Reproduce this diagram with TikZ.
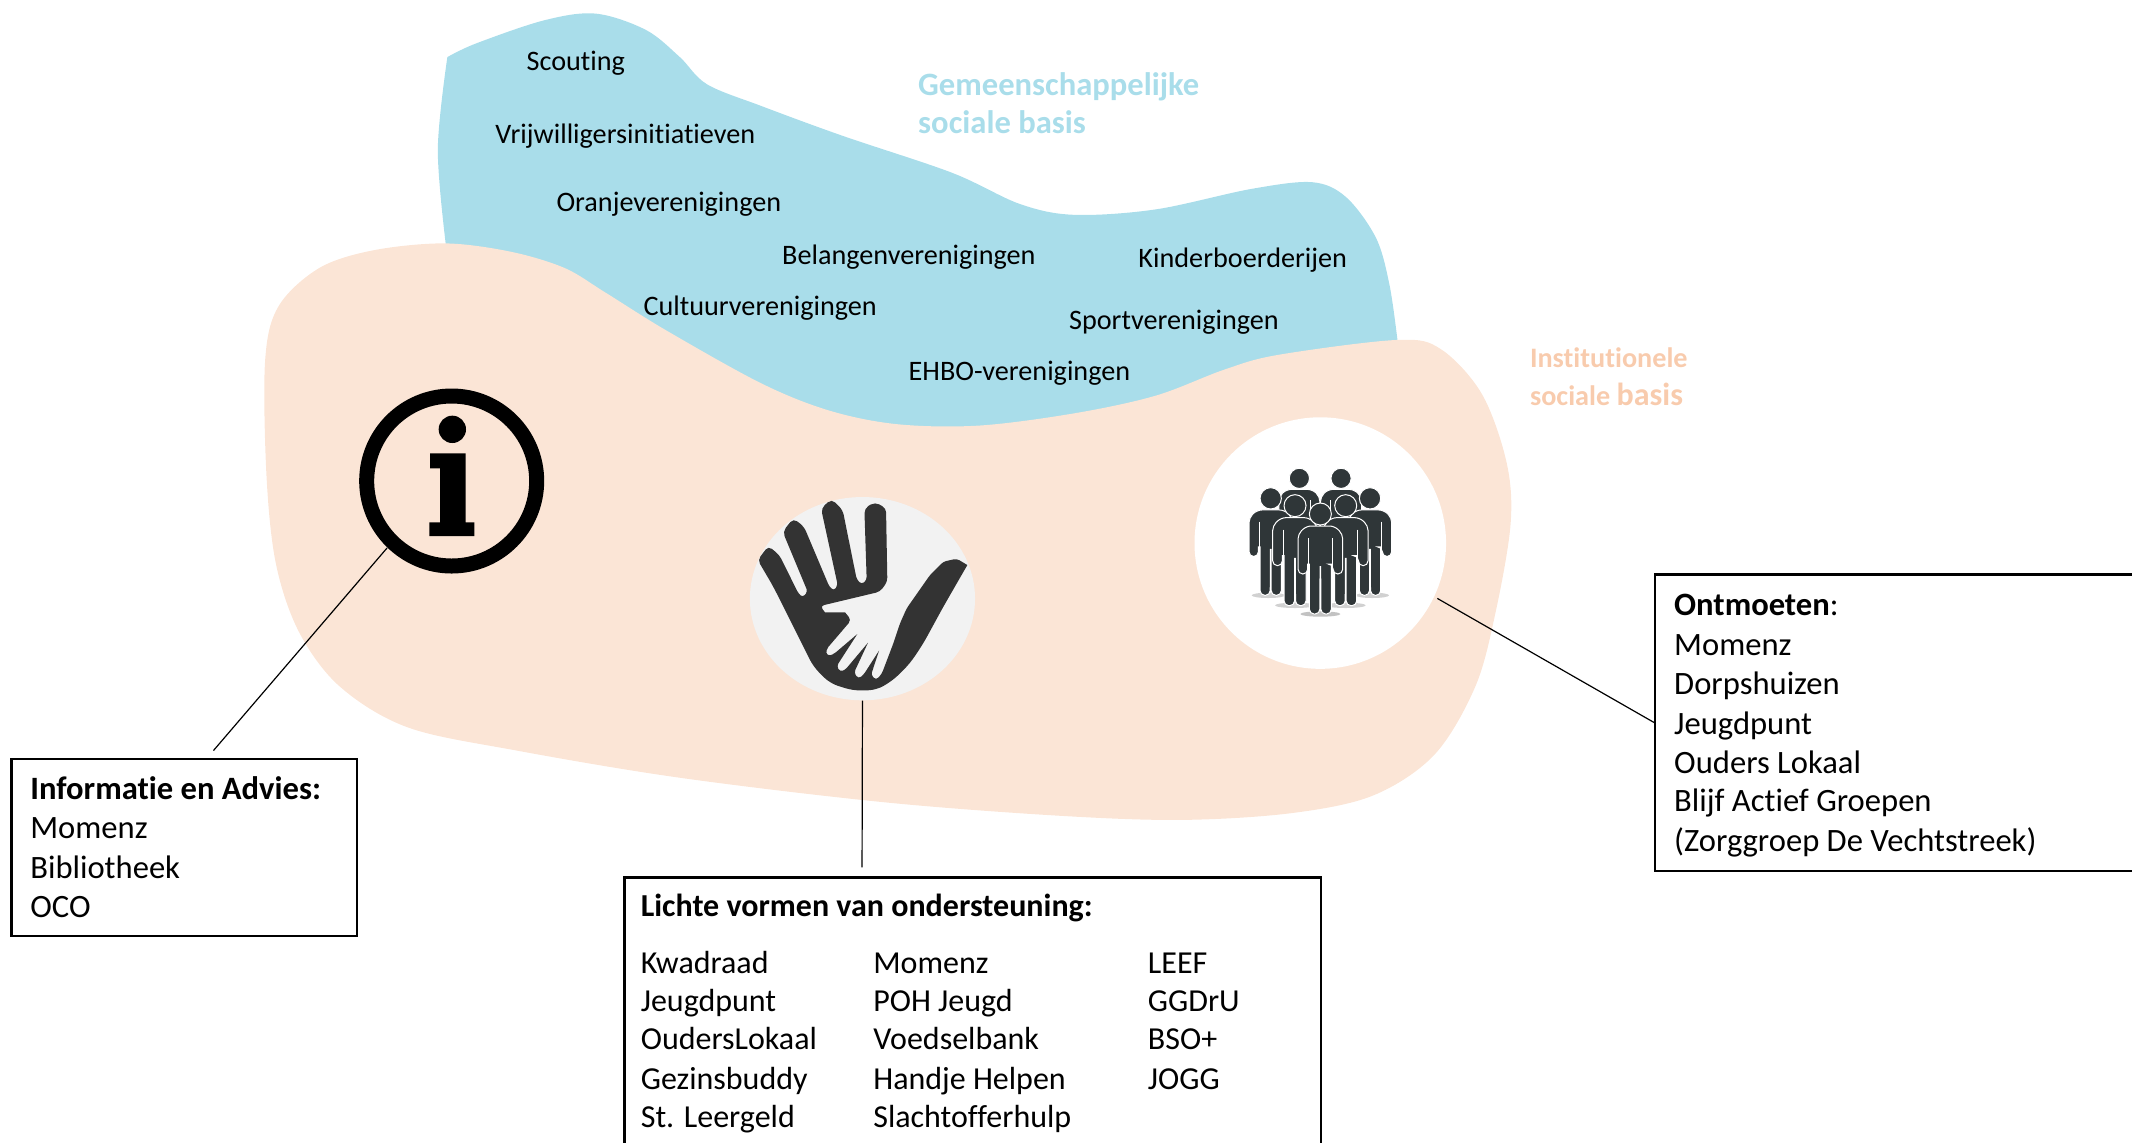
\documentclass[tikz,border=0pt]{standalone}
\usepackage{fontspec}
\setmainfont[Ligatures=NoCommon]{Carlito}
\usetikzlibrary{shapes.geometric}
\definecolor{blueblob}{HTML}{A9DDEA}
\definecolor{peachblob}{HTML}{FBE5D6}
\definecolor{peachlabel}{HTML}{F8CBAD}
\definecolor{handbg}{HTML}{F2F2F2}
\definecolor{handdark}{HTML}{333333}
\definecolor{groupdark}{HTML}{2F3638}
\tikzset{
  small/.style={anchor=base west,inner sep=0pt,font=\fontsize{14.1}{16}\selectfont,text=black},
  body/.style={anchor=base west,inner sep=0pt,font=\fontsize{16.3}{19}\selectfont,text=black},
  bodybold/.style={body,font=\fontsize{16.3}{19}\selectfont\bfseries},
  bodylist/.style={body,font=\fontsize{16}{19}\selectfont},
  boldlist/.style={body,font=\fontsize{16}{19}\selectfont\bfseries},
  bluelabel/.style={anchor=base west,inner sep=0pt,font=\fontsize{16.3}{19}\selectfont\bfseries,text=blueblob},
  peachlabeltext/.style={anchor=base west,inner sep=0pt,font=\fontsize{14.1}{17}\selectfont\bfseries,text=peachlabel},
  framebox/.style={draw=black,line width=1.2pt,rectangle,anchor=north west,inner sep=0pt},
  conn/.style={draw=black,line width=0.6pt},
}
\newcommand{\personfig}[3]{%
  \begin{scope}[shift={(#1,#2)},scale=#3]
    \fill[groupdark,draw=white,line width=0.5pt] (0,0) circle (33);
    \path[fill=groupdark,draw=white,line width=0.5pt,rounded corners=2.4pt]
      (-42,36) -- (42,36) -- (67,60) -- (67,180) -- (38,180) -- (38,150) [sharp corners] -- (33,150) [rounded corners=2.4pt] -- (33,300) -- (1.5,300) [sharp corners] -- (1,158) -- (-1,158) [rounded corners=2.4pt] -- (-1.5,300) -- (-33,300) [sharp corners] -- (-33,150) -- (-38,150) [rounded corners=2.4pt] -- (-38,180) -- (-67,180) -- (-67,60) -- cycle;
    \draw[white,line width=0.5pt] (-35.5,72) -- (-35.5,172) (35.5,72) -- (35.5,172);
  \end{scope}}
\begin{document}
\begin{tikzpicture}[x=0.67985pt,y=-0.67985pt]
\useasboundingbox (0,0) rectangle (1568,840.6);
\clip (0,0) rectangle (1568,840.6);
% blobs
\fill[blueblob] plot[smooth,tension=.55] coordinates {(329,42) (350,32) (400,15) (438,10) (475,22) (500,42) (520,62) (560,78) (620,100) (700,127) (750,150) (790,158) (850,154) (920,139) (965,134) (990,145) (1012,175) (1022,210) (1028,252)} -- (1028,340) -- (400,340) -- (328,181) -- plot[smooth,tension=.55] coordinates {(328,181) (322,110) (329,42)} -- cycle;
\fill[peachblob] plot[smooth cycle,tension=.55] coordinates {(327,179) (375,185) (415,197) (445,215) (490,243) (560,282) (610,302) (660,312) (720,313) (790,304) (850,291) (900,272) (940,261) (1028,250) (1060,257) (1090,290) (1108,340) (1111,385) (1100,450) (1085,505) (1055,555) (1010,585) (950,598) (870,603) (780,600) (650,590) (500,572) (380,552) (300,535) (250,505) (220,465) (203,415) (196,350) (195,265) (205,225) (235,197) (275,184)};
% blob texts
\node[small] (t1) at (387,51.5) {Scouting};
\node[small] (t2) at (364,105.5) {Vrijwilligersinitiatieven};
\node[small] (t3) at (409,155.5) {Oranjeverenigingen};
\node[small] (t4) at (575,194.5) {Belangenverenigingen};
\node[small] (t5) at (837,196.5) {Kinderboerderijen};
\node[small] (t6) at (473,232) {Cultuurverenigingen};
\node[small] (t7) at (786,242.5) {Sportverenigingen};
\node[small] (t8) at (668,280) {EHBO-verenigingen};
\node[bluelabel] (l1) at (675,70) {Gemeenschappelijke};
\node[bluelabel] (l2) at (675,98.5) {sociale basis};
\node[peachlabeltext] (l3) at (1125,270) {Institutionele};
\node[peachlabeltext] (l4) at (1125,298) {sociale {\fontsize{16}{17}\selectfont basis}};
% icon anchors
\node[circle,minimum size=136.2*0.67985pt,inner sep=0pt] (info) at (332.2,353.8) {};
\node[ellipse,fill=handbg,minimum width=165.6*0.67985pt,minimum height=149.5*0.67985pt,inner sep=0pt] (hand) at (634.3,440.3) {};
\node[circle,fill=white,minimum size=185*0.67985pt,inner sep=0pt] (group) at (971,399.4) {};
% info icon, in crop pixels
\begin{scope}[x=0.16667pt,y=-0.16667pt,shift={(340*3,370*3)}]
  \draw[black,line width=7.5pt] (335,333) circle (255);
  \fill[black] (337,178) circle (41);
  \fill[black] (270,250) -- (377,250) -- (377,457) -- (403,457) -- (403,498) -- (268,498) -- (268,457) -- (300,457) -- (300,295) -- (270,295) -- cycle;
\end{scope}
% hand icon, in crop pixels
\begin{scope}[x=0.16667pt,y=-0.16667pt,shift={(730*3,480*3)}]
  \fill[handdark,rounded corners=2pt]
    (435,66) -- (468,85) -- (472,305) -- (450,335) -- (270,378) [sharp corners] -- (285,397) -- (345,397) [rounded corners=2pt] -- (364,420) -- (287,510) -- (290,528) -- (308,525) [sharp corners] -- (382,462) [rounded corners=1.5pt] -- (320,558) -- (330,575) -- (345,570) [sharp corners] -- (414,488) [rounded corners=1.5pt] -- (372,578) -- (385,596) -- (400,585) [sharp corners] -- (447,512) [rounded corners=1.5pt] -- (423,585) -- (438,600) -- (455,582) -- (490,490) -- (510,430) -- (530,385) -- (600,285) -- (640,245) -- (680,236) [sharp corners] -- (712,255) [rounded corners=4pt] -- (640,380) -- (580,490) -- (540,550) -- (490,600) -- (440,630) -- (370,632) -- (300,610) -- (250,560) -- (215,490) -- (170,400) -- (130,320) [rounded corners=2.2pt] -- (83,240) -- (115,198) -- (148,225) [rounded corners=1.5pt] -- (205,340) -- (218,352) -- (233,335) [rounded corners=2.4pt] -- (158,155) -- (190,115) -- (222,140) [rounded corners=1.5pt] -- (298,320) -- (312,332) -- (323,315) [rounded corners=2.4pt] -- (273,85) -- (305,57) -- (338,90) [rounded corners=1.5pt] -- (380,298) -- (395,313) -- (410,300) [rounded corners=2.4pt] -- (403,85) -- cycle;
\end{scope}
% group icon, in crop pixels
\begin{scope}[x=0.16667pt,y=-0.16667pt,shift={(1180*3,440*3)}]
  \fill[black!18] (265,466) ellipse (50 and 8);
  \fill[black!18] (577,466) ellipse (50 and 8);
  \fill[black!18] (345,496) ellipse (60 and 8);
  \fill[black!18] (497,496) ellipse (60 and 8);
  \fill[black!24] (421,522) ellipse (60 and 8);
  \personfig{358}{115}{0.92}
  \personfig{483}{115}{0.92}
  \personfig{272}{175}{0.97}
  \personfig{570}{175}{0.97}
  \personfig{345}{197}{1.0}
  \personfig{497}{197}{1.0}
  \personfig{421}{222}{1.0}
\end{scope}
% boxes
\node[framebox,minimum width=254*0.67985pt,minimum height=130*0.67985pt] (infobox) at (7.5,557.5) {};
\node[framebox,minimum width=512*0.67985pt,minimum height=240*0.67985pt] (lightbox) at (458.5,644.5) {};
\node[framebox,minimum width=400*0.67985pt,minimum height=218*0.67985pt] (meetbox) at (1216.5,421.5) {};
% connectors
\coordinate (infoend) at (157,552);
\coordinate (handend) at (634,638);
\draw[conn] (info.-134) -- (infoend);
\draw[conn] (hand.south) -- (handend);
\draw[conn] ([shift={(2,1.5)}]group.-25) -- (meetbox.west);
% box texts
\node[bodybold] (i0) at (22,588) {Informatie en Advies:};
\node[body] (i1) at (22,617) {Momenz};
\node[body] (i2) at (22,646) {Bibliotheek};
\node[body] (i3) at (22,675) {OCO};
\node[body] (m0) at (1231,453) {\textbf{Ontmoeten}:};
\node[body] (m1) at (1231,482) {Momenz};
\node[body] (m2) at (1231,511) {Dorpshuizen};
\node[body] (m3) at (1231,540) {Jeugdpunt};
\node[body] (m4) at (1231,569) {Ouders Lokaal};
\node[body] (m5) at (1231,597) {Blijf Actief Groepen};
\node[body] (m6) at (1231,626) {(Zorggroep De Vechtstreek)};
\node[boldlist] (h0) at (471,674) {Lichte vormen van ondersteuning:};
\node[bodylist] (a1) at (471,716) {Kwadraad};
\node[bodylist] (a2) at (471,744) {Jeugdpunt};
\node[bodylist] (a3) at (471,772) {OudersLokaal};
\node[bodylist] (a4) at (471,801) {Gezinsbuddy};
\node[bodylist] (a5) at (471,829) {St. Leergeld};
\node[bodylist] (b1) at (642,716) {Momenz};
\node[bodylist] (b2) at (642,744) {POH Jeugd};
\node[bodylist] (b3) at (642,772) {Voedselbank};
\node[bodylist] (b4) at (642,801) {Handje Helpen};
\node[bodylist] (b5) at (642,829) {Slachtofferhulp};
\node[bodylist] (c1) at (844,716) {LEEF};
\node[bodylist] (c2) at (844,744) {GGDrU};
\node[bodylist] (c3) at (844,772) {BSO+};
\node[bodylist] (c4) at (844,801) {JOGG};
\end{tikzpicture}
\end{document}
